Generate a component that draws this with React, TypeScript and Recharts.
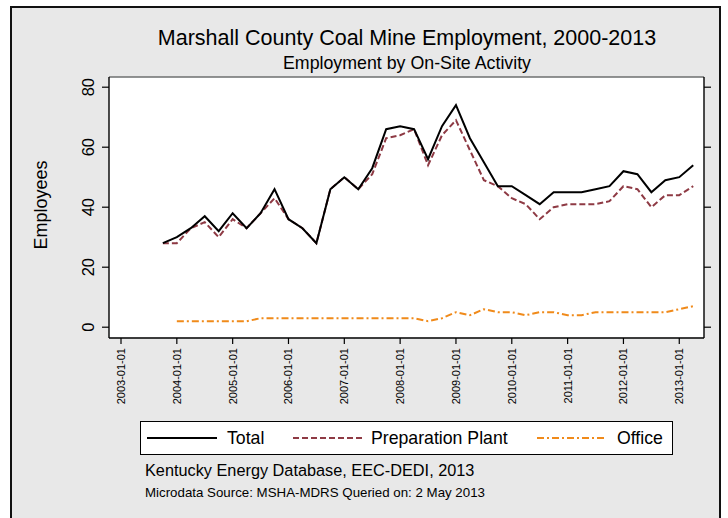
import React from "react";
import { LineChart, Line, XAxis, YAxis, CartesianGrid, ReferenceLine } from "recharts";

const quarterDates = [
  "2003-10-01",
  "2004-01-01", "2004-04-01", "2004-07-01", "2004-10-01",
  "2005-01-01", "2005-04-01", "2005-07-01", "2005-10-01",
  "2006-01-01", "2006-04-01", "2006-07-01", "2006-10-01",
  "2007-01-01", "2007-04-01", "2007-07-01", "2007-10-01",
  "2008-01-01", "2008-04-01", "2008-07-01", "2008-10-01",
  "2009-01-01", "2009-04-01", "2009-07-01", "2009-10-01",
  "2010-01-01", "2010-04-01", "2010-07-01", "2010-10-01",
  "2011-01-01", "2011-04-01", "2011-07-01", "2011-10-01",
  "2012-01-01", "2012-04-01", "2012-07-01", "2012-10-01",
  "2013-01-01", "2013-04-01",
];

const totalEmployees = [
  28,
  30, 33, 37, 32,
  38, 33, 38, 46,
  36, 33, 28, 46,
  50, 46, 53, 66,
  67, 66, 56, 67,
  74, 63, 55, 47,
  47, 44, 41, 45,
  45, 45, 46, 47,
  52, 51, 45, 49,
  50, 54,
];

const prepPlantEmployees = [
  28,
  28, 33, 35, 30,
  36, 33, 38, 43,
  36, 33, 28, 46,
  50, 46, 51, 63,
  64, 66, 54, 64,
  69, 59, 49, 47,
  43, 41, 36, 40,
  41, 41, 41, 42,
  47, 46, 40, 44,
  44, 47,
];

const officeEmployees: (number | null)[] = [
  null,
  2, 2, 2, 2,
  2, 2, 3, 3,
  3, 3, 3, 3,
  3, 3, 3, 3,
  3, 3, 2, 3,
  5, 4, 6, 5,
  5, 4, 5, 5,
  4, 4, 5, 5,
  5, 5, 5, 5,
  6, 7,
];

const yearTicks = [2003, 2004, 2005, 2006, 2007, 2008, 2009, 2010, 2011, 2012, 2013];
const yTicks = [0, 20, 40, 60, 80];

const seriesNames = { total: "Total", prep: "Preparation Plant", office: "Office" };

const toYear = (d: string) => {
  const [y, m] = d.split("-").map(Number);
  return y + (m - 1) / 12;
};

const data = quarterDates.map((d, i) => ({
  t: toYear(d),
  total: totalEmployees[i],
  prep: prepPlantEmployees[i],
  office: officeEmployees[i],
}));

const FONT = '"Liberation Sans", Arial, Helvetica, sans-serif';
const Y_MIN = -3.6;
const Y_MAX = 83.4;

const COLORS = { total: "#000000", prep: "#8e3a44", office: "#f08a1a" };
const DASH = { total: undefined as string | undefined, prep: "6 3", office: "7 3 2 3" };

const XTick = (props: any) => {
  const { x, y, payload } = props;
  return (
    <text
      transform={`translate(${x + 4},${y + 2}) rotate(-90)`}
      textAnchor="end"
      fontSize={11}
      fontFamily={FONT}
      fill="#000"
    >
      {`${payload.value}-01-01`}
    </text>
  );
};

const YTick = (props: any) => {
  const { x, y, payload } = props;
  return (
    <text
      transform={`translate(${x - 6},${y}) rotate(-90)`}
      textAnchor="middle"
      fontSize={16.5}
      fontFamily={FONT}
      fill="#000"
    >
      {payload.value}
    </text>
  );
};

const EmptyTick = () => <g />;

const LegendSample = ({ color, dash }: { color: string; dash?: string }) => (
  <svg width={70} height={10} style={{ display: "block" }}>
    <line x1={0} y1={5} x2={70} y2={5} stroke={color} strokeWidth={2.2} strokeDasharray={dash} />
  </svg>
);

export default function App() {
  return (
    <div
      style={{
        position: "absolute",
        left: 0,
        top: 0,
        width: 728,
        height: 518,
        background: "#ffffff",
        overflow: "hidden",
        fontFamily: FONT,
      }}
    >
      <div
        style={{
          position: "absolute",
          left: 10,
          top: 6,
          width: 707,
          height: 560,
          border: "2px solid #111",
          background: "#e8e8e8",
        }}
      />
      <div style={{ position: "absolute", left: 0, top: 0 }}>
        <LineChart width={728} height={518} data={data} margin={{ top: 77, right: 0, bottom: 0, left: 0 }}>
          <CartesianGrid vertical={false} stroke="#e2e9e9" strokeWidth={1} fill="#ffffff" />
          <XAxis
            dataKey="t"
            type="number"
            domain={[2002.785, 2013.443]}
            ticks={yearTicks}
            allowDataOverflow
            height={180}
            tick={<XTick />}
            tickSize={6}
            axisLine={{ stroke: "#000", strokeWidth: 1.4 }}
            tickLine={{ stroke: "#000", strokeWidth: 1.2 }}
          />
          <YAxis
            yAxisId="left"
            orientation="left"
            width={109}
            domain={[Y_MIN, Y_MAX]}
            ticks={yTicks}
            allowDataOverflow
            tick={<YTick />}
            tickSize={7}
            axisLine={{ stroke: "#000", strokeWidth: 1.4 }}
            tickLine={{ stroke: "#000", strokeWidth: 1.2 }}
          />
          <YAxis
            yAxisId="right"
            orientation="right"
            width={24}
            domain={[Y_MIN, Y_MAX]}
            ticks={yTicks}
            allowDataOverflow
            tick={<EmptyTick />}
            tickSize={7}
            axisLine={{ stroke: "#000", strokeWidth: 1.4 }}
            tickLine={{ stroke: "#000", strokeWidth: 1.2 }}
          />
          <ReferenceLine yAxisId="left" y={Y_MAX} stroke="#333" strokeWidth={1} ifOverflow="extendDomain" />
          <Line
            yAxisId="left"
            type="linear"
            dataKey="office"
            name={seriesNames.office}
            stroke={COLORS.office}
            strokeWidth={2}
            strokeDasharray={DASH.office}
            dot={false}
            connectNulls={false}
            isAnimationActive={false}
          />
          <Line
            yAxisId="left"
            type="linear"
            dataKey="prep"
            name={seriesNames.prep}
            stroke={COLORS.prep}
            strokeWidth={2}
            strokeDasharray={DASH.prep}
            dot={false}
            isAnimationActive={false}
          />
          <Line
            yAxisId="left"
            type="linear"
            dataKey="total"
            name={seriesNames.total}
            stroke={COLORS.total}
            strokeWidth={2}
            dot={false}
            isAnimationActive={false}
          />
        </LineChart>
      </div>

      <div
        style={{
          position: "absolute",
          left: 107,
          width: 600,
          top: 25,
          textAlign: "center",
          fontSize: 21.5,
          lineHeight: "26px",
          color: "#000",
        }}
      >
        Marshall County Coal Mine Employment, 2000-2013
      </div>
      <div
        style={{
          position: "absolute",
          left: 107,
          width: 600,
          top: 53,
          textAlign: "center",
          fontSize: 17.8,
          lineHeight: "21px",
          color: "#000",
        }}
      >
        Employment by On-Site Activity
      </div>
      <div
        style={{
          position: "absolute",
          left: 41 - 60,
          top: 205 - 12,
          width: 120,
          height: 24,
          lineHeight: "24px",
          textAlign: "center",
          fontSize: 18,
          transform: "rotate(-90deg)",
          color: "#000",
        }}
      >
        Employees
      </div>

      <div
        style={{
          position: "absolute",
          left: 140,
          top: 421,
          width: 531,
          height: 32,
          border: "1px solid #000",
          background: "#fff",
          fontSize: 17.7,
          color: "#000",
        }}
      >
        <div style={{ position: "absolute", left: 6, top: 11 }}>
          <LegendSample color={COLORS.total} dash={DASH.total} />
        </div>
        <div style={{ position: "absolute", left: 86, top: 5, lineHeight: "22px" }}>{seriesNames.total}</div>
        <div style={{ position: "absolute", left: 152, top: 11 }}>
          <LegendSample color={COLORS.prep} dash={DASH.prep} />
        </div>
        <div style={{ position: "absolute", left: 230, top: 5, lineHeight: "22px" }}>{seriesNames.prep}</div>
        <div style={{ position: "absolute", left: 396, top: 11 }}>
          <LegendSample color={COLORS.office} dash={DASH.office} />
        </div>
        <div style={{ position: "absolute", left: 476, top: 5, lineHeight: "22px" }}>{seriesNames.office}</div>
      </div>

      <div style={{ position: "absolute", left: 145, top: 460, fontSize: 16.3, lineHeight: "20px", color: "#000" }}>
        Kentucky Energy Database, EEC-DEDI, 2013
      </div>
      <div style={{ position: "absolute", left: 145, top: 484, fontSize: 13.3, lineHeight: "18px", color: "#000" }}>
        Microdata Source: MSHA-MDRS Queried on: 2 May 2013
      </div>
    </div>
  );
}
